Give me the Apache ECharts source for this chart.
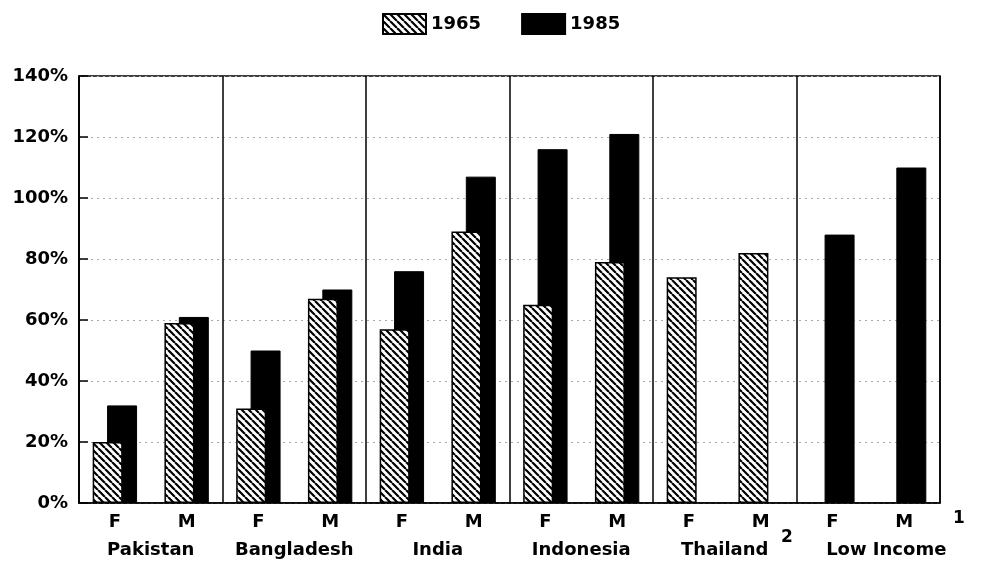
<!DOCTYPE html>
<html>
<head>
<meta charset="utf-8">
<script src="https://cdn.jsdelivr.net/npm/echarts@6/dist/echarts.min.js"></script>
<style>
  html, body { margin: 0; padding: 0; background: #fff; }
  #main { width: 983px; height: 578px; }
</style>
</head>
<body>
<div id="main"></div>
<script>
  // data
  var sexes = ['F', 'M', 'F', 'M', 'F', 'M', 'F', 'M', 'F', 'M', 'F', 'M'];
  var countries = ['Pakistan', 'Bangladesh', 'India', 'Indonesia', 'Thailand', 'Low Income'];
  var y1965 = [20, 59, 31, 67, 57, 89, 65, 79, 74, 82, null, null];
  var y1985 = [32, 61, 50, 70, 76, 107, 116, 121, null, null, 88, 110];
  var yTicks = [0, 20, 40, 60, 80, 100, 120, 140];

  var FONT = 'DejaVu Sans';

  // diagonal hatching for 1965
  function hatch() {
    var s = 7;
    var c = document.createElement('canvas');
    c.width = s; c.height = s;
    var ctx = c.getContext('2d');
    ctx.fillStyle = '#fff';
    ctx.fillRect(0, 0, s, s);
    ctx.strokeStyle = '#000';
    ctx.lineWidth = 2.2;
    ctx.beginPath();
    [-s, 0, s].forEach(function (k) {
      ctx.moveTo(k, 0);
      ctx.lineTo(k + s, s);
    });
    ctx.stroke();
    return c;
  }

  var labelFont = { color: '#000', fontFamily: FONT, fontWeight: 'bold', fontSize: 18 };

  var myChart = echarts.init(document.getElementById('main'));
  var option = {
    animation: false,
    legend: {
      top: 8,
      left: 377,
      icon: 'rect',
      itemWidth: 43,
      itemHeight: 20,
      itemGap: 40,
      data: ['1965', '1985'],
      textStyle: labelFont
    },
    grid: {
      left: 79, right: 43, top: 76, bottom: 75,
      show: true, borderColor: '#000', borderWidth: 1.5
    },
    xAxis: [
      {
        type: 'category',
        data: sexes,
        axisLine: { lineStyle: { color: '#000', width: 1.5 } },
        axisTick: { show: false },
        axisLabel: Object.assign({ margin: 10, interval: 0 }, labelFont)
      },
      {
        type: 'category',
        position: 'bottom',
        offset: 28,
        data: countries.map(function (c) {
          return c === 'Low Income' ? { value: c, textStyle: { padding: [0, 0, 0, 36] } } : c;
        }),
        axisLine: { show: false },
        axisTick: { show: false },
        axisLabel: Object.assign({ margin: 10, interval: 0, hideOverlap: false }, labelFont),
        splitLine: { show: true, interval: 0, lineStyle: { color: '#000', width: 1.5 } }
      }
    ],
    yAxis: {
      type: 'value',
      min: yTicks[0],
      max: yTicks[yTicks.length - 1],
      interval: 20,
      axisLine: { show: true, lineStyle: { color: '#000', width: 1.5 } },
      axisTick: { show: true, inside: true, length: 9, lineStyle: { color: '#000', width: 1.5 } },
      axisLabel: Object.assign({ formatter: '{value}%', margin: 11 }, labelFont),
      splitLine: { show: true, lineStyle: { color: '#aaa', type: [2, 4], width: 1 } }
    },
    series: [
      {
        name: '1965',
        type: 'bar',
        xAxisIndex: 0,
        barWidth: 30,
        barGap: '-52%',
        z: 3,
        data: y1965,
        itemStyle: { color: { image: hatch(), repeat: 'repeat' }, borderColor: '#000', borderWidth: 1.5 }
      },
      {
        name: '1985',
        type: 'bar',
        xAxisIndex: 0,
        barWidth: 30,
        z: 2,
        data: y1985,
        itemStyle: { color: '#000', borderColor: '#000', borderWidth: 1 }
      }
    ],
    graphic: [
      { type: 'text', left: 781, top: 529, style: { text: '2', fill: '#000', font: 'bold 17px "DejaVu Sans"' } },
      { type: 'text', left: 953, top: 510, style: { text: '1', fill: '#000', font: 'bold 17px "DejaVu Sans"' } }
    ]
  };
  myChart.setOption(option);
</script>
</body>
</html>
